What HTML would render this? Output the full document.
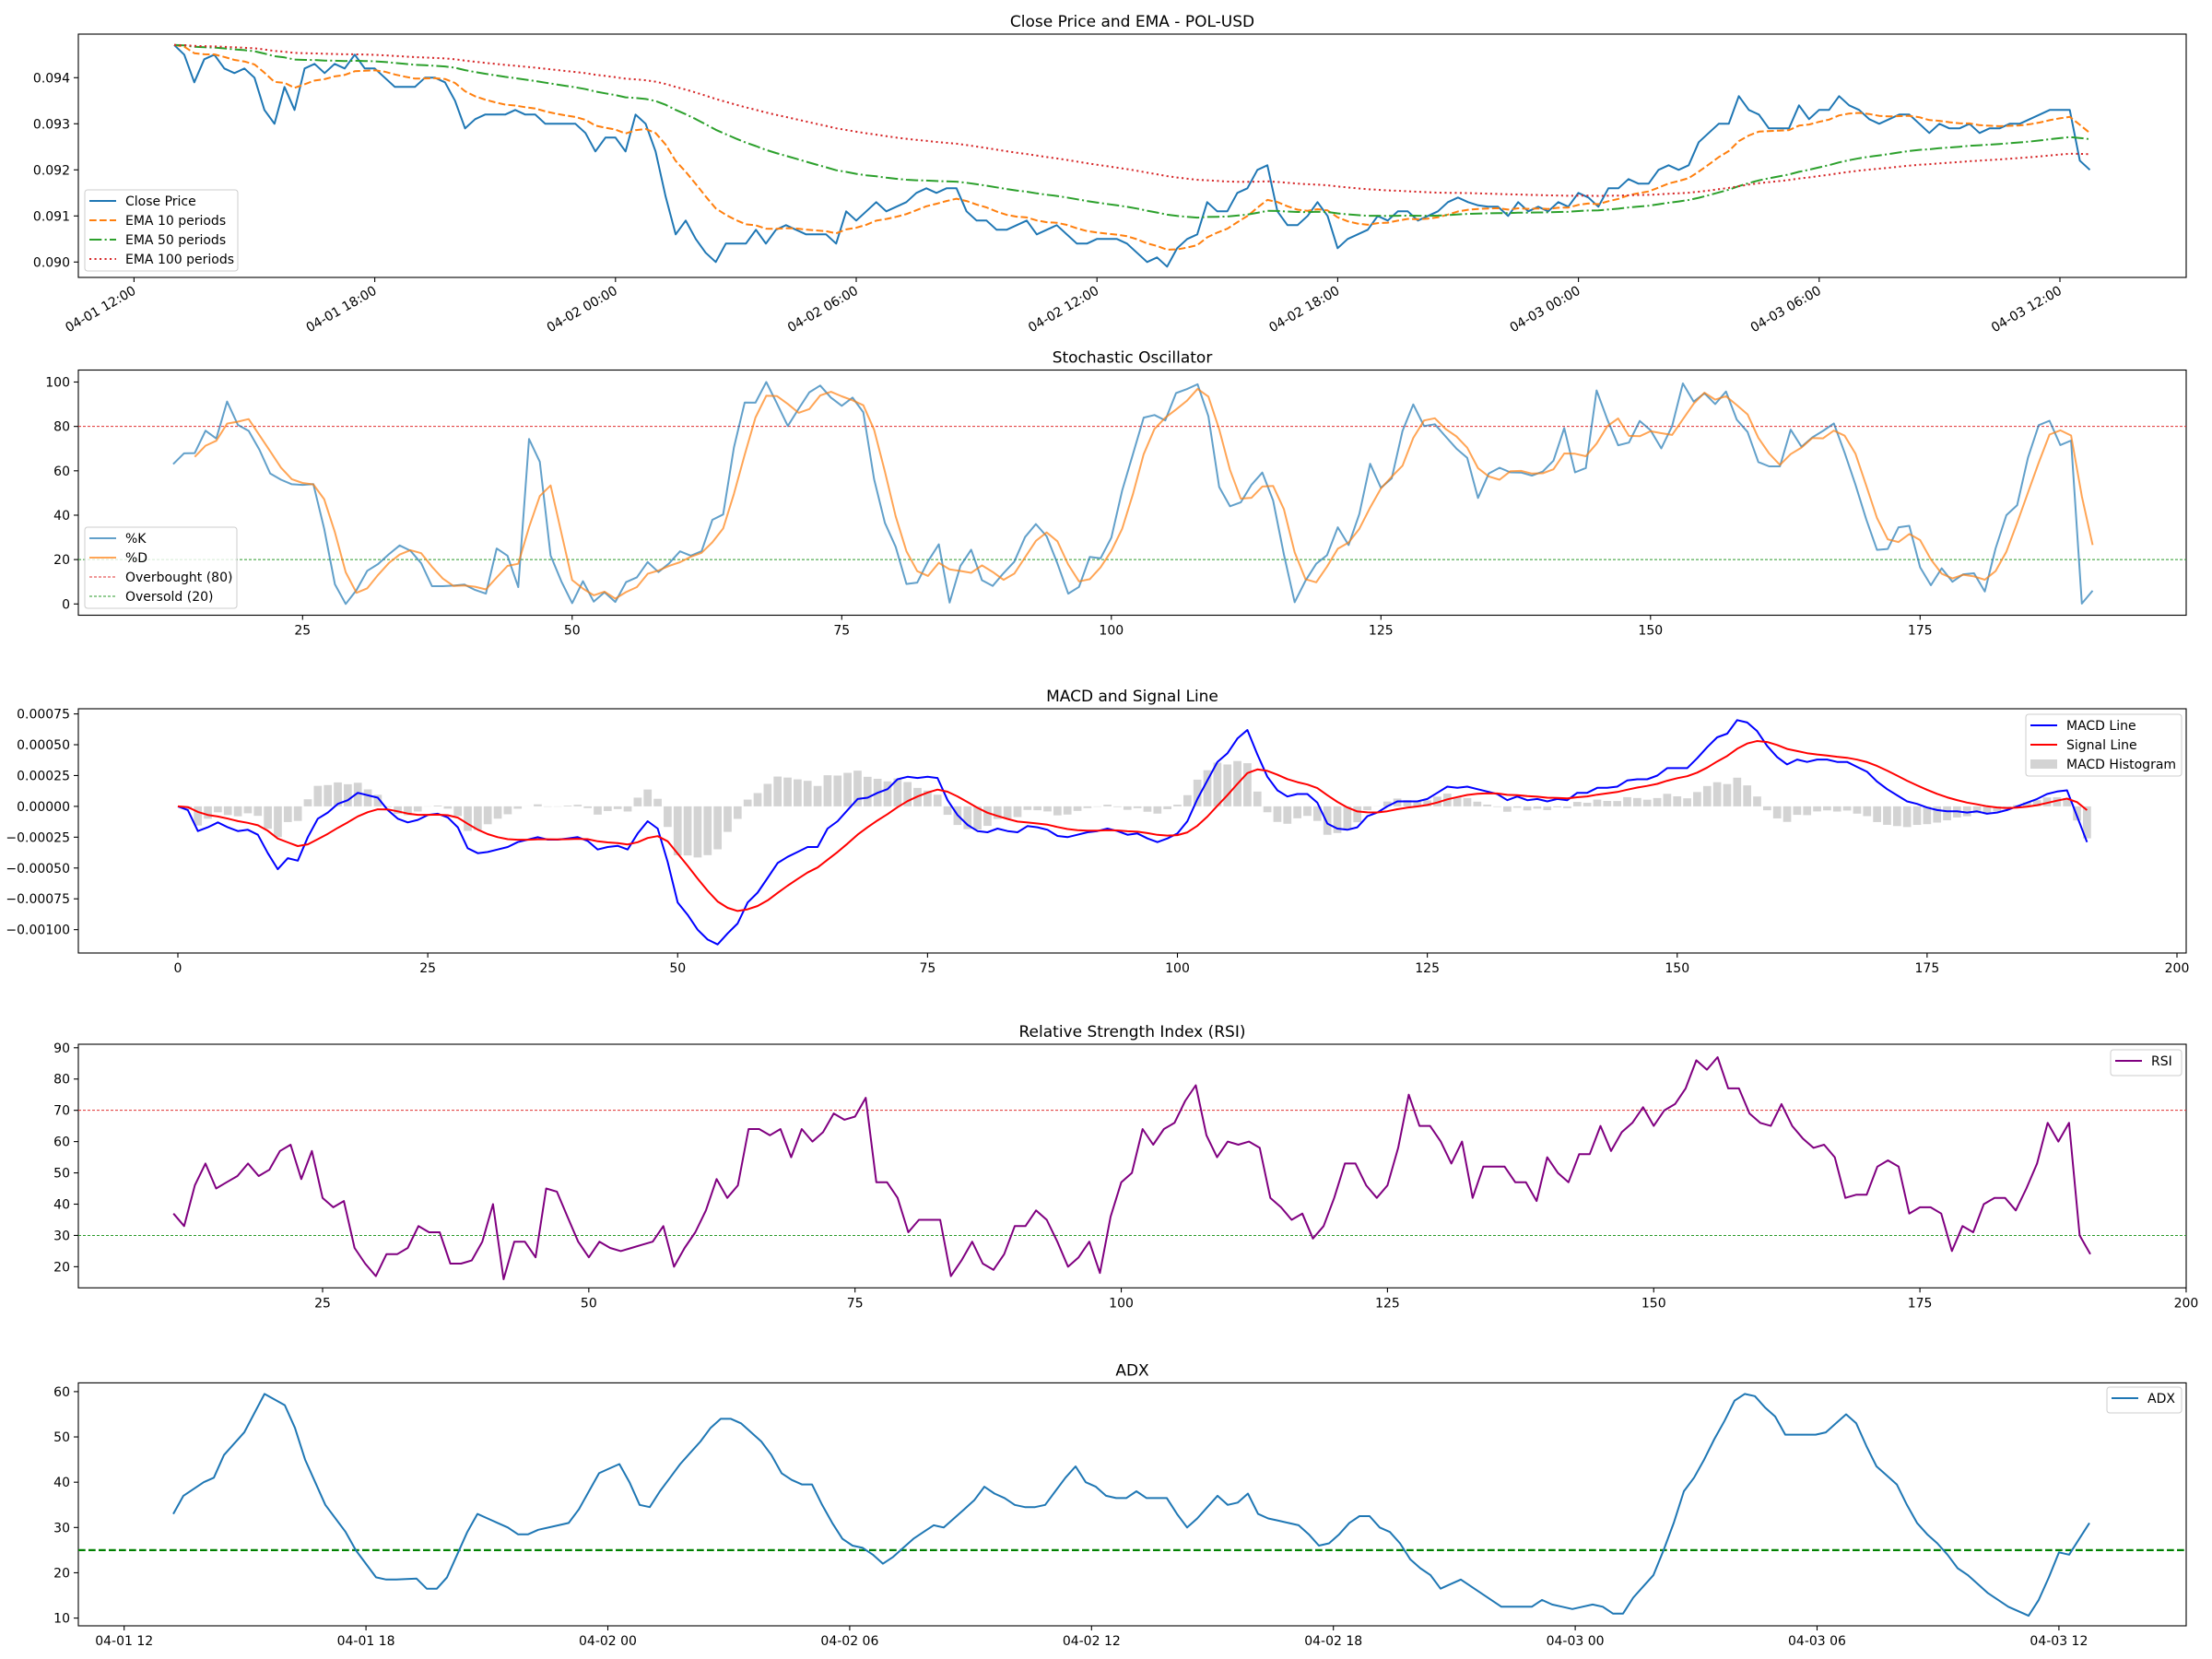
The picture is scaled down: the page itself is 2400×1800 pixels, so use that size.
<!DOCTYPE html>
<html><head><meta charset="utf-8">
<style>
html,body{margin:0;padding:0;background:#fff;}
svg{display:block;font-family:"DejaVu Sans","Liberation Sans",sans-serif;}
</style></head>
<body>
<svg id="s" width="2400" height="1800" viewBox="0 0 2400 1800" xmlns="http://www.w3.org/2000/svg"></svg>
<script>
const S=document.getElementById('s');const NS='http://www.w3.org/2000/svg';
function el(t,a,txt){const e=document.createElementNS(NS,t);for(const k in a)e.setAttribute(k,a[k]);if(txt!==undefined)e.textContent=txt;S.appendChild(e);return e;}
function poly(pts,c,w,dash,op){const a={points:pts.map(p=>p[0].toFixed(1)+','+p[1].toFixed(1)).join(' '),fill:'none',stroke:c,'stroke-width':w,'stroke-linejoin':'round'};if(dash)a['stroke-dasharray']=dash;if(op)a['stroke-opacity']=op;el('polyline',a);}
function txt(x,y,s,anc,size,extra){const a={x:x,y:y,'font-size':size||14,'text-anchor':anc||'middle',fill:'#000'};if(extra)Object.assign(a,extra);el('text',a,s);}
function resample(a,n){const o=[];for(let k=0;k<n;k++){const t=k*(a.length-1)/(n-1);const lo=Math.min(Math.floor(t),a.length-2);o.push(a[lo]+(a[lo+1]-a[lo])*(t-lo));}return o;}
function frame(y0,y1,title){el('rect',{x:85,y:y0,width:2287,height:y1-y0,fill:'none',stroke:'#000','stroke-width':1.1});txt(1228.5,y0-8,title,'middle',17);}
function ytick(y,label){el('line',{x1:80,y1:y,x2:85,y2:y,stroke:'#000','stroke-width':1.1});txt(76,y+5,label,'end',14);}
function xtick(x,yb,label){el('line',{x1:x,y1:yb,x2:x,y2:yb+5,stroke:'#000','stroke-width':1.1});txt(x,yb+21,label,'middle',14);}
function hline(y,c,w,dash){el('line',{x1:85,y1:y,x2:2372,y2:y,stroke:c,'stroke-width':w,'stroke-dasharray':dash});}
function legend(x,y,w,h,items){el('rect',{x:x,y:y,width:w,height:h,rx:3,fill:'#fff','fill-opacity':0.8,stroke:'#ccc','stroke-width':1});
 items.forEach((it,k)=>{const yy=y+12+k*21;
  if(it.patch){el('rect',{x:x+5,y:yy-5,width:29,height:10,fill:it.c});}
  else el('line',{x1:x+5,y1:yy,x2:x+34,y2:yy,stroke:it.c,'stroke-width':it.w||2,'stroke-dasharray':it.d||'','stroke-opacity':it.op||1});
  txt(x+44,yy+5,it.t,'start',14);});}

// ---------- data ----------
const c1=[.09471,.0945,.0939,.0944,.0945,.0942,.0941,.0942,.0940,.0933,.0930,.0938,.0933,.0942,.0943,.0941,.0943,.0942,.0945,.0942,.0942,.0940,.0938,.0938,.0938,.0940,.0940,.0939,.0935,.0929,.0931,.0932,.0932,.0932,.0933,.0932,.0932,.0930,.0930,.0930,.0930,.0928,.0924,.0927,.0927,.0924,.0932,.0930,.0924,.09142,.0906,.0909,.0905,.0902,.0900,.0904,.0904];
const c2=[.0904,.0907,.0904,.0907,.0908,.0907,.0906,.0906,.0906,.0904,.0911,.0909,.0911,.0913,.0911,.0912,.0913,.0915,.0916,.0915,.0916,.0916,.0911,.0909,.0909,.0907,.0907,.0908,.0909,.0906,.0907,.0908,.0906,.0904,.0904,.0905,.0905,.0905,.0904,.0902,.0900,.0901,.0899,.0903,.0905,.0906,.0913,.0911,.0911,.0915,.0916,.0920,.0921,.0911,.0908,.0908,.0910,.0913,.0910,.0903,.0905,.0906,.0907,.0910,.0909,.0911,.0911,.0909,.0910,.0911,.0913,.0914,.0913];
const c3=[.09123,.0912,.0912,.0910,.0913,.0911,.0912,.0911,.0913,.0912,.0915,.0914,.0912,.0916,.0916,.0918,.0917,.0917,.0920,.0921,.0920,.0921,.0926,.0928,.0930,.0930,.0936,.0933,.0932,.0929,.0929,.0929,.0934,.0931,.0933,.0933,.0936,.0934,.0933,.0931,.0930,.0931,.0932,.0932,.0930,.0928,.0930,.0929,.0929,.0930,.0928,.0929,.0929,.0930,.0930,.0931,.0932,.0933,.0933,.0933,.0922,.0920];
const C=c1.concat(c2,c3);const N=C.length;
function ema(a,span){const al=2/(span+1);const o=[a[0]];for(let i=1;i<a.length;i++)o.push(al*a[i]+(1-al)*o[i-1]);return o;}

// ---------- Panel 1 ----------
frame(37,301,'Close Price and EMA - POL-USD');
const X1=i=>189+i*10.882, Y1=p=>84.3+(0.094-p)*50000;
[0.090,0.091,0.092,0.093,0.094].forEach(v=>ytick(Y1(v),v.toFixed(3)));
['04-01 12:00','04-01 18:00','04-02 00:00','04-02 06:00','04-02 12:00','04-02 18:00','04-03 00:00','04-03 06:00','04-03 12:00'].forEach((l,k)=>{const x=145.4+k*261.2;el('line',{x1:x,y1:301,x2:x,y2:306,stroke:'#000','stroke-width':1.1});txt(x+3,318,l,'end',14,{transform:'rotate(-30 '+(x+3)+' 318)'});});
const e10=ema(C,10),e50=ema(C,50),e100=ema(C,100);
poly(C.map((v,i)=>[X1(i),Y1(v)]),'#1f77b4',2);
poly(e10.map((v,i)=>[X1(i),Y1(v)]),'#ff7f0e',2,'7.7 3.3');
poly(e50.map((v,i)=>[X1(i),Y1(v)]),'#2ca02c',2,'13.3 3.3 2.1 3.3');
poly(e100.map((v,i)=>[X1(i),Y1(v)]),'#d62728',2,'2.1 3.4');
legend(92,206,166,88,[{t:'Close Price',c:'#1f77b4'},{t:'EMA 10 periods',c:'#ff7f0e',d:'7.7 3.3'},{t:'EMA 50 periods',c:'#2ca02c',d:'13.3 3.3 2.1 3.3'},{t:'EMA 100 periods',c:'#d62728',d:'2.1 3.4'}]);

// ---------- Panel 2 Stochastic ----------
frame(401.5,667.5,'Stochastic Oscillator');
const X2=i=>328.3+(i-25)*11.70, Y2=v=>655.3-v*2.408;
[0,20,40,60,80,100].forEach(v=>ytick(Y2(v),String(v)));
[25,50,75,100,125,150,175].forEach(v=>xtick(X2(v),667.5,String(v)));
hline(Y2(80),'#e03030',1,'3 2');hline(Y2(20),'#2a9a2a',1,'3 2');
const kRaw=[63,68,68,79,74,94,78,78,67,56,56,53,54,54,21,0,0,12,18,18,28,24,24,8,8,8,9,8,0,25,25,0,75,66,22,10,0,11,0,6,0,12,12,21,12,21,25,20,26,46,36,100,82,100,100,77,85,93,100,95,88,93,93,60,38,28,9,9,19,27,0,18,25,9,8,15,20,33,37,28,14,0,12,27,16,41,60,75,94,74,95,95,100,97,56,44,44,52,61,50,25,0,10,18,22,35,26,42,66,50,58,83,92,76,83,72,69,64,37,75,50,68,50,67,50,86,68,43,100,87,72,70,83,80,69,78,100,91,95,90,96,82,77,62,62,62,83,67,78,78,83,60,50,30,20,29,40,30,0,20,10,10,20,0,20,40,40,63,80,84,71,78,0,6];
const KK=resample(kRaw,179);const K=[],D=[];
for(let i=13;i<N;i++)K[i]=KK[i-13];
for(let i=15;i<N;i++)D[i]=(K[i]+K[i-1]+K[i-2])/3;
const kp=[],dp=[];for(let i=13;i<N;i++)kp.push([X2(i),Y2(K[i])]);for(let i=15;i<N;i++)dp.push([X2(i),Y2(D[i])]);
poly(kp,'#1f77b4',2,null,0.7);poly(dp,'#ff7f0e',2,null,0.7);
legend(92,572,165,88,[{t:'%K',c:'#1f77b4',op:0.7},{t:'%D',c:'#ff7f0e',op:0.7},{t:'Overbought (80)',c:'#e03030',w:1,d:'3 2'},{t:'Oversold (20)',c:'#2a9a2a',w:1,d:'3 2'}]);

// ---------- Panel 3 MACD ----------
frame(769,1034,'MACD and Signal Line');
const X3=i=>193+i*10.845, Y3=v=>874.9-v*133770;
[-0.001,-0.00075,-0.0005,-0.00025,0,0.00025,0.0005,0.00075].forEach(v=>{let s=Math.abs(v).toFixed(5);ytick(Y3(v),(v<0?'\u2212':'')+s);});
[0,25,50,75,100,125,150,175,200].forEach(v=>xtick(X3(v),1034,String(v)));
const mRaw=[0,-0.3,-2,-1.7,-1.3,-1.7,-2,-1.9,-2.3,-3.8,-5.1,-4.2,-4.4,-2.5,-1,-0.5,0.2,0.5,1.1,0.9,0.7,-0.3,-1,-1.3,-1.1,-0.7,-0.6,-0.9,-1.7,-3.4,-3.8,-3.7,-3.5,-3.3,-2.9,-2.7,-2.5,-2.7,-2.7,-2.6,-2.5,-2.8,-3.5,-3.3,-3.2,-3.5,-2.2,-1.2,-1.8,-4.5,-7.8,-8.8,-10,-10.8,-11.2,-10.3,-9.5,-7.8,-7,-5.8,-4.6,-4.1,-3.7,-3.3,-3.3,-1.8,-1.2,-0.3,0.6,0.7,1.1,1.4,2.2,2.4,2.3,2.4,2.3,0.5,-0.7,-1.5,-2,-2.1,-1.8,-2,-2.1,-1.6,-1.7,-1.9,-2.4,-2.5,-2.3,-2.1,-2,-1.8,-2,-2.3,-2.2,-2.6,-2.9,-2.6,-2.2,-1.2,0.6,2.1,3.6,4.3,5.5,6.2,4.2,2.4,1.3,0.8,1,1,0.3,-1.4,-1.8,-1.9,-1.7,-0.8,-0.5,0,0.4,0.4,0.4,0.6,1.1,1.6,1.5,1.6,1.4,1.2,1,0.5,0.8,0.5,0.6,0.4,0.6,0.5,1.1,1.1,1.5,1.5,1.6,2.1,2.2,2.2,2.5,3.1,3.1,3.1,3.9,4.8,5.6,5.9,7,6.8,6.1,4.9,4,3.4,3.8,3.6,3.8,3.8,3.6,3.6,3.2,2.8,2,1.4,0.9,0.4,0.2,-0.1,-0.3,-0.4,-0.4,-0.5,-0.4,-0.6,-0.5,-0.3,0,0.3,0.6,1,1.2,1.3,-0.8,-2.9];
const M=resample(mRaw,N).map(v=>v*1e-4);const SG=ema(M,9);
for(let i=0;i<N;i++){const h=M[i]-SG[i];const y=Y3(h),z=Y3(0);el('rect',{x:X3(i)-4.35,y:Math.min(y,z),width:8.7,height:Math.abs(y-z),fill:'#d3d3d3'});}
poly(M.map((v,i)=>[X3(i),Y3(v)]),'#0000ff',2);
poly(SG.map((v,i)=>[X3(i),Y3(v)]),'#ff0000',2);
legend(2198,775,169,67,[{t:'MACD Line',c:'#0000ff'},{t:'Signal Line',c:'#ff0000'},{t:'MACD Histogram',c:'#d3d3d3',patch:true}]);

// ---------- Panel 4 RSI ----------
frame(1133,1397.3,'Relative Strength Index (RSI)');
const X4=i=>350+(i-25)*11.554, Y4=v=>1136.8+(90-v)*3.394;
[20,30,40,50,60,70,80,90].forEach(v=>ytick(Y4(v),String(v)));
[25,50,75,100,125,150,175,200].forEach(v=>xtick(X4(v),1397.3,String(v)));
hline(Y4(70),'#e03030',1,'3 2');hline(Y4(30),'#2a9a2a',1,'3 2');
const rsiRaw=[37,33,46,53,45,47,49,53,49,51,57,59,48,57,42,39,41,26,21,17,24,24,26,33,31,31,21,21,22,28,40,16,28,28,23,45,44,36,28,23,28,26,25,26,27,28,33,20,26,31,38,48,42,46,64,64,62,64,55,64,60,63,69,67,68,74,47,47,42,31,35,35,35,17,22,28,21,19,24,33,33,38,35,28,20,23,28,18,36,47,50,64,59,64,66,73,78,62,55,60,59,60,58,42,39,35,37,29,33,42,53,53,46,42,46,58,75,65,65,60,53,60,42,52,52,52,47,47,41,55,50,47,56,56,65,57,63,66,71,65,70,72,77,86,83,87,77,77,69,66,65,72,65,61,58,59,55,42,43,43,52,54,52,37,39,39,37,25,33,31,40,42,42,38,45,53,66,60,66,30,24];
const R=resample(rsiRaw,181);
poly(R.map((v,k)=>[X4(11+k),Y4(v)]),'#800080',2);
legend(2290,1139,77,28,[{t:'RSI',c:'#800080'}]);

// ---------- Panel 5 ADX ----------
frame(1500.4,1764,'ADX');
const Y5=v=>1509.9+(60-v)*4.914;
[10,20,30,40,50,60].forEach(v=>ytick(Y5(v),String(v)));
['04-01 12','04-01 18','04-02 00','04-02 06','04-02 12','04-02 18','04-03 00','04-03 06','04-03 12'].forEach((l,k)=>xtick(134.7+k*262.4,1764,l));
hline(Y5(25),'#008000',2.2,'7.7 3.3');
const adx=[[123,33],[130,37],[144,40],[151,41],[158,46],[172,51],[186,59.5],[200,57],[207,52],[214,45],[221,40],[228,35],[242,29],[249,25],[256,22],[263,19],[270,18.5],[277,18.5],[291,18.7],[298,16.5],[305,16.5],[312,19],[319,24],[326,29],[333,33],[340,32],[347,31],[354,30],[361,28.5],[368,28.5],[375,29.5],[389,30.5],[396,31],[403,34],[410,38],[417,42],[424,43],[431,44],[438,40],[445,35],[452,34.5],[459,38],[466,41],[473,44],[480,46.5],[487,49],[494,52],[501,54],[508,54],[515,53],[522,51],[529,49],[536,46],[543,42],[550,40.5],[557,39.5],[564,39.5],[571,35],[578,31],[585,27.5],[592,26],[599,25.5],[606,24],[613,22],[620,23.5],[627,25.5],[634,27.5],[641,29],[648,30.5],[655,30],[662,32],[669,34],[676,36],[683,39],[690,37.5],[697,36.5],[704,35],[711,34.5],[718,34.5],[725,35],[732,38],[739,41],[746,43.5],[753,40],[760,39],[767,37],[774,36.5],[781,36.5],[788,38],[795,36.5],[802,36.5],[809,36.5],[816,33],[823,30],[830,32],[837,34.5],[844,37],[851,35],[858,35.5],[865,37.5],[872,33],[879,32],[886,31.5],[893,31],[900,30.5],[907,28.5],[914,26],[921,26.5],[928,28.5],[935,31],[942,32.5],[949,32.5],[956,30],[963,29],[970,26.5],[977,23],[984,21],[991,19.5],[998,16.5],[1005,17.5],[1012,18.5],[1019,17],[1026,15.5],[1033,14],[1040,12.5],[1047,12.5],[1054,12.5],[1061,12.5],[1068,14],[1075,13],[1082,12.5],[1089,12],[1096,12.5],[1103,13],[1110,12.5],[1117,11],[1124,11],[1131,14.5],[1138,17],[1145,19.5],[1152,25],[1159,31],[1166,38],[1173,41],[1180,45],[1187,49.5],[1194,53.5],[1201,58],[1208,59.5],[1215,59],[1222,56.5],[1229,54.5],[1236,50.5],[1243,50.5],[1250,50.5],[1257,50.5],[1264,51],[1271,53],[1278,55],[1285,53],[1292,48],[1299,43.5],[1306,41.5],[1313,39.5],[1320,35],[1327,31],[1334,28.5],[1341,26.5],[1348,24],[1355,21],[1362,19.5],[1369,17.5],[1376,15.5],[1383,14],[1390,12.5],[1397,11.5],[1404,10.5],[1411,14],[1418,19],[1425,24.5],[1432,24],[1439,27.5],[1446,31]];
poly(adx.map(p=>{const xd=123+(p[0]-123)*(1358/1323);return [188+(xd-123)*(2079/1358),Y5(p[1])];}),'#1f77b4',2);
legend(2286,1505,81,28,[{t:'ADX',c:'#1f77b4'}]);
</script>
</body></html>
